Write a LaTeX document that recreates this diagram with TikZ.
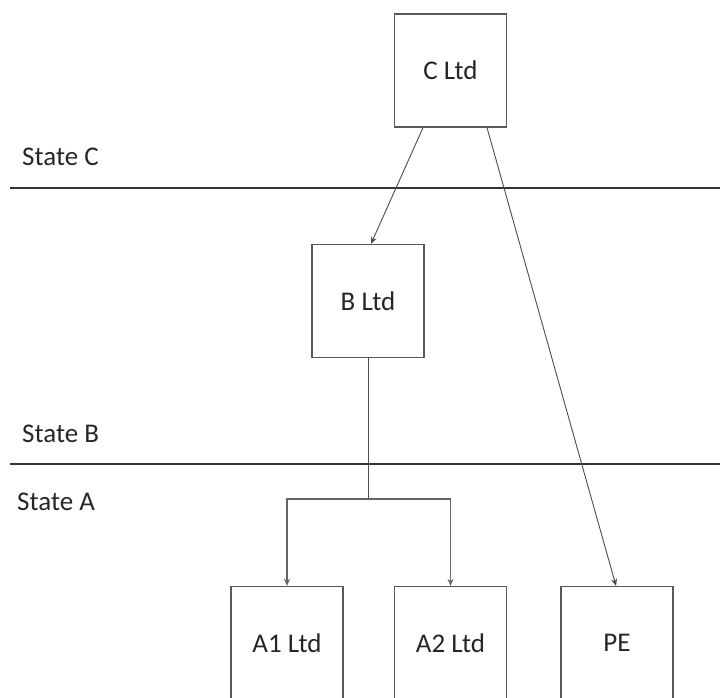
\documentclass[tikz,border=0pt]{standalone}
\usepackage{fontspec}
\setmainfont{Carlito}
\usetikzlibrary{arrows.meta}
\begin{document}
\begin{tikzpicture}[x=1pt,y=-1pt,
  entity/.style={draw=black!65,line width=1.3pt,fill=white,minimum width=112pt,minimum height=113pt,inner sep=0pt,font=\fontsize{27}{30}\selectfont,text=black!85},
  link/.style={draw=black!70,line width=0.9pt},
  tip/.style={link,-{Stealth[length=7pt,width=6pt]}},
  branch/.style={draw=black!60,line width=1.4pt},
  branchtip/.style={branch,-{Stealth[length=7pt,width=6pt]}},
  border/.style={draw=black!80,line width=1.6pt},
  statelabel/.style={anchor=base west,inner sep=0pt,font=\fontsize{27}{30}\selectfont,text=black!85}]
\useasboundingbox (0,0) rectangle (720,697);
\begin{scope}
\clip (0,0) rectangle (720,697);
% jurisdiction borders
\draw[border] (10,188) -- (720,188);
\draw[border] (10,464) -- (720,464);
\node[statelabel] (sc) at (22,165) {State C};
\node[statelabel] (sb) at (22,442) {State B};
\node[statelabel] (sa) at (17,510) {State A};
% entities
\node[entity] (C) at (450.5,70.5) {C Ltd};
\node[entity] (B) at (368,301) {B Ltd};
\node[entity] (A1) at (287,643) {A1 Ltd};
\node[entity] (A2) at (450.5,643) {A2 Ltd};
\node[entity] (PE) at (617,643) {PE};
% ownership links
\coordinate (J) at (368,499);
\draw[tip] ([xshift=-27.5pt]C.south) -- ([xshift=3pt]B.north);
\draw[tip] ([xshift=36.5pt]C.south) -- ([xshift=-1pt]PE.north);
\draw[link] (B.south) -- (J);
\draw[branchtip] (J) -| (A1.north);
\draw[branchtip] (J) -| (A2.north);
\end{scope}
\end{tikzpicture}
\end{document}
